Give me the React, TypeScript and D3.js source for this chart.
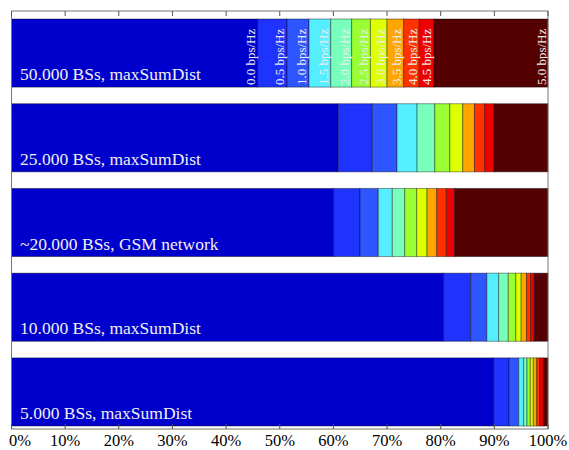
import React from "react";
import * as d3 from "d3";

const scenarios = [
  "50.000 BSs, maxSumDist",
  "25.000 BSs, maxSumDist",
  "~20.000 BSs, GSM network",
  "10.000 BSs, maxSumDist",
  "5.000 BSs, maxSumDist",
];

const rates = ["0.0", "0.5", "1.0", "1.5", "2.0", "2.5", "3.0", "3.5", "4.0", "4.5", "5.0"];

// share (%) of area per spectral-efficiency class, per scenario
const share50k = [45.9, 5.45, 4.1, 4.05, 3.9, 3.5, 3.1, 3.1, 2.9, 2.7, 21.3];
const share25k = [60.9, 6.35, 4.6, 3.75, 3.3, 2.8, 2.4, 2.2, 1.9, 1.7, 10.1];
const share20kGsm = [60.05, 4.91, 3.41, 2.61, 2.31, 2.24, 1.92, 1.81, 1.78, 1.56, 17.4];
const share10k = [80.56, 5.03, 3.01, 2.2, 1.8, 1.4, 1.0, 1.0, 0.75, 0.7, 2.55];
const share5k = [89.9, 2.83, 1.81, 0.93, 0.62, 0.61, 0.56, 0.64, 0.56, 0.67, 0.87];

const shares = [share50k, share25k, share20kGsm, share10k, share5k];

const rateColors = [
  "#0000cc", "#1f33ff", "#2e55ff", "#55eeff", "#77ffbb", "#99ff33",
  "#ddff00", "#ffa500", "#ff3300", "#ee0000", "#550000",
];

const tickValues = [0, 10, 20, 30, 40, 50, 60, 70, 80, 90, 100];

const W = 569;
const H = 450;
const FRAME_TOP = 11;
const FRAME_BOTTOM = 429;

export default function App() {
  const x = d3.scaleLinear().domain([0, 100]).range([11.5, 548]);
  const y = d3.scaleBand<string>().domain(scenarios).range([19, 426]).paddingInner(0.196).paddingOuter(0);
  const color = d3.scaleOrdinal<string, string>().domain(rates).range(rateColors);
  const serif = "'Times New Roman', 'Liberation Serif', 'DejaVu Serif', serif";

  return (
    <svg width={W} height={H} style={{ position: "absolute", left: 0, top: 0, background: "#fff" }} fontFamily={serif}>
      {scenarios.map((sc, i) => {
        const vals = shares[i];
        let acc = 0;
        const segs = vals.map((v, j) => {
          const s = acc;
          acc += v;
          const e = j === vals.length - 1 ? 100 : Math.min(acc, 100);
          return { rate: rates[j], s, e };
        });
        const y0 = y(sc)!;
        const bh = y.bandwidth();
        return (
          <g key={sc}>
            {segs.map((sg) => (
              <rect
                key={sg.rate}
                x={x(sg.s)}
                y={y0}
                width={Math.max(0, x(sg.e) - x(sg.s))}
                height={bh}
                fill={color(sg.rate)}
                stroke="#000"
                strokeOpacity={0.4}
                strokeWidth={1}
              />
            ))}
            {i === 0 &&
              segs.map((sg) => (
                <text
                  key={"l" + sg.rate}
                  transform={`translate(${x(sg.e) - 2.5},${y0 + bh - 2}) rotate(-90)`}
                  fontSize={13}
                  fill="#ececec"
                  textAnchor="start"
                >
                  {sg.rate} bps/Hz
                </text>
              ))}
            <text x={20} y={y0 + bh - 7} fontSize={17.5} fill="#f0f0f0">
              {sc}
            </text>
          </g>
        );
      })}
      <rect
        x={x(0)}
        y={FRAME_TOP}
        width={x(100) - x(0)}
        height={FRAME_BOTTOM - FRAME_TOP}
        fill="none"
        stroke="#777"
        strokeWidth={1}
      />
      {tickValues.map((t) => (
        <g key={t}>
          <line x1={x(t)} x2={x(t)} y1={FRAME_TOP} y2={FRAME_TOP + 5} stroke="#555" />
          <line x1={x(t)} x2={x(t)} y1={FRAME_BOTTOM} y2={FRAME_BOTTOM - 5} stroke="#555" />
          <text
            x={t === 0 ? 9 : x(t)}
            y={446}
            fontSize={16.5}
            fill="#000"
            textAnchor={t === 0 ? "start" : "middle"}
          >
            {t}%
          </text>
        </g>
      ))}
    </svg>
  );
}
